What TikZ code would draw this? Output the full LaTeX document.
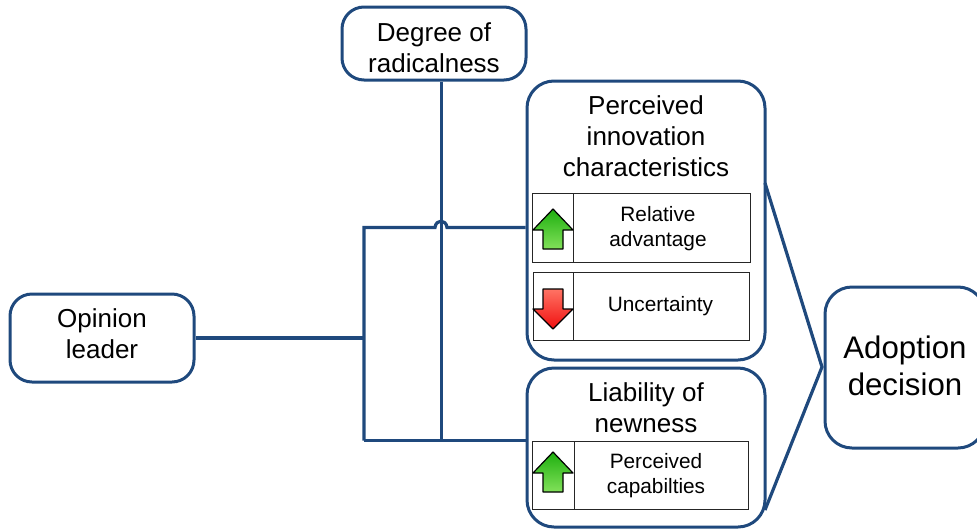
\documentclass[tikz,border=0pt]{standalone}
\usepackage{fontspec}
\setmainfont{Liberation Sans}
\definecolor{navy}{HTML}{1F497D}
\tikzset{
  rbox/.style={draw=navy,line width=3pt,rounded corners=#1,fill=white,inner sep=0pt},
  rbox/.default=22pt,
  cell/.style={draw=black!85,line width=0.9pt,fill=white,inner sep=0pt},
  conn/.style={draw=navy,line width=3.2pt,line join=miter},
  txt/.style={inner sep=0pt,align=center},
  upgreen/.style={draw=black,line width=1.2pt,line join=round,top color={rgb,255:red,30;green,175;blue,15},bottom color={rgb,255:red,130;green,225;blue,90}},
  downred/.style={draw=black,line width=1.2pt,line join=round,top color={rgb,255:red,255;green,115;blue,100},bottom color={rgb,255:red,240;green,15;blue,15}},
  big/.style={txt,font=\fontsize{26}{31}\selectfont},
  small/.style={txt,font=\fontsize{20.8}{25}\selectfont},
  huge/.style={txt,font=\fontsize{31.2}{37}\selectfont}
}
\begin{document}
\begin{tikzpicture}[x=1pt,y=-1pt]
\useasboundingbox (0,0) rectangle (977,528);
\clip (0,0) rectangle (977,528);
% boxes
\node[rbox=22pt,minimum width=184pt,minimum height=73pt] (deg) at (434,43.5) {};
\node[rbox=27pt,minimum width=238pt,minimum height=279pt] (pic) at (646,220.5) {};
\node[rbox=27pt,minimum width=238pt,minimum height=159pt] (lia) at (646,447.5) {};
\node[rbox=22pt,minimum width=184pt,minimum height=88pt] (opi) at (102,338) {};
\node[rbox=27pt,minimum width=160pt,minimum height=161pt] (ado) at (905,367.5) {};
% titles
\node[big] (degt) at (434,47.5) {Degree of\\radicalness};
\node[big] (opit) at (102,334) {Opinion\\leader};
\node[huge] (adot) at (905,365.5) {Adoption\\decision};
\node[big] (pict) at (646,136.5) {Perceived\\innovation\\characteristics};
\node[big] (liat) at (646,408) {Liability of\\newness};
% cells
\node[cell,minimum width=41pt,minimum height=69pt] (c1a) at (552.5,227.5) {};
\node[cell,minimum width=177pt,minimum height=69pt] (c1b) at (661.5,227.5) {};
\node[small] (c1t) at (658,228.5) {Relative\\advantage};
\node[cell,minimum width=40pt,minimum height=68pt] (c2a) at (553,306) {};
\node[cell,minimum width=176pt,minimum height=68pt] (c2b) at (661,306) {};
\node[small] (c2t) at (660.5,306) {Uncertainty};
\node[cell,minimum width=42pt,minimum height=68pt] (c3a) at (553,475) {};
\node[cell,minimum width=174pt,minimum height=68pt] (c3b) at (661,475) {};
\node[small] (c3t) at (656,476) {Perceived\\capabilties};
% arrows
\path[upgreen] (553,209) -- (573,230) -- (563,230) -- (563,249) -- (543,249) -- (543,230) -- (533,230) -- cycle;
\path[downred] (553,329) -- (573,309) -- (563,309) -- (563,289) -- (543,289) -- (543,309) -- (533,309) -- cycle;
\path[upgreen] (553,452) -- (573,473) -- (563,473) -- (563,492) -- (543,492) -- (543,473) -- (533,473) -- cycle;
% connector points
\coordinate (jm) at (364,338);
\coordinate (jt) at (364,227.5);
\coordinate (jb) at (364,440.5);
\coordinate (vb) at (441.5,440.5);
\coordinate (hl) at (435,227.5);
\coordinate (hr) at (447,227.5);
\coordinate (ptop) at (765,183);
\coordinate (apex) at (822,367);
\coordinate (pbot) at (765,510);
% connectors
\draw[conn] (opi.east |- jm) -- (jm);
\draw[conn] (jb) -- (jt) -- (hl) .. controls (436,219) and (446,219) .. (hr) -- (pic.west |- jt);
\draw[conn] (jb) -- (lia.west |- jb);
\draw[conn] (deg.south -| vb) -- (vb);
\draw[conn] (ptop) -- (apex) -- (pbot);
\end{tikzpicture}
\end{document}
